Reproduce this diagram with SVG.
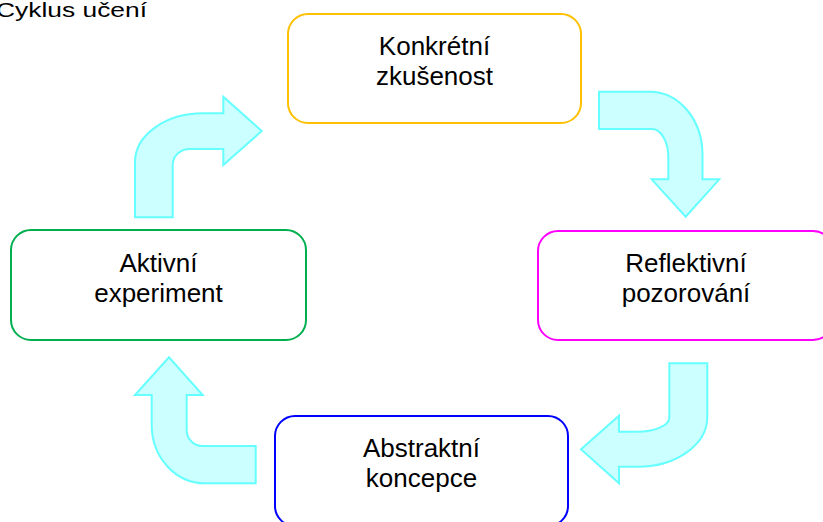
<svg xmlns="http://www.w3.org/2000/svg" width="823" height="522" viewBox="0 0 823 522">
<style>
.box{fill:#fff;stroke-width:2}
.lbl{font-family:"Liberation Sans",Arial,sans-serif;font-size:26px;fill:#000;text-anchor:middle}
.arr{fill:#CCFFFF;stroke:#66FFFF;stroke-width:2;stroke-linejoin:miter}
</style>
<rect width="823" height="522" fill="#fff"/>
<text x="-4" y="17" font-family="Liberation Sans, Arial, sans-serif" font-size="20" fill="#000" textLength="151" lengthAdjust="spacingAndGlyphs">Cyklus učení</text>
<g id="connectors">
<path class="arr" d="M135,217.3 L135,162 A68,48.7 0 0 1 203,113.3 L223.3,113.3 L223.3,96.7 L261.7,131 L223.3,165 L223.3,149 L190,149 A17,16 0 0 0 172.7,165 L172.7,217.3 Z"/>
<path class="arr" d="M599,91.7 L650,91.7 A52.5,63 0 0 1 702.5,155 L702.5,179.3 L719.3,179.3 L685.7,216.7 L651.7,179.3 L668.3,179.3 L668.3,157 A16.3,28 0 0 0 652,129 L599,129 Z"/>
<path class="arr" d="M669.3,363.3 L707.3,363.3 L707.3,417 A69,49.7 0 0 1 638.3,466.7 L619,466.7 L619,483.3 L581,449.3 L619,415.7 L619,431.7 L637,431.7 A32.3,14 0 0 0 669.3,417.7 Z"/>
<path class="arr" d="M255.7,446 L255.7,483.3 L205,483.3 A53.3,58.3 0 0 1 151.7,425 L151.7,395 L135,395 L169,357.3 L202.7,395 L186.7,395 L186.7,430 A15.3,16 0 0 0 202,446 Z"/>
</g>
<g id="node-konkretni">
<rect class="box" x="288" y="14" width="293" height="109" rx="20" stroke="#FFC000"/>
<text class="lbl" x="434.5" y="55">Konkrétní</text>
<text class="lbl" x="434.5" y="85">zkušenost</text>
</g>
<g id="node-reflektivni">
<rect class="box" x="538" y="231" width="295" height="109" rx="20" stroke="#FF00FF"/>
<text class="lbl" x="686" y="272">Reflektivní</text>
<text class="lbl" x="686" y="302">pozorování</text>
</g>
<g id="node-abstraktni">
<rect class="box" x="275" y="416" width="293" height="110" rx="20" stroke="#0000FF"/>
<text class="lbl" x="421.5" y="457">Abstraktní</text>
<text class="lbl" x="421.5" y="487">koncepce</text>
</g>
<g id="node-aktivni">
<rect class="box" x="11" y="230" width="295" height="110" rx="20" stroke="#00B050"/>
<text class="lbl" x="158.5" y="272">Aktivní</text>
<text class="lbl" x="158.5" y="302">experiment</text>
</g>
</svg>
